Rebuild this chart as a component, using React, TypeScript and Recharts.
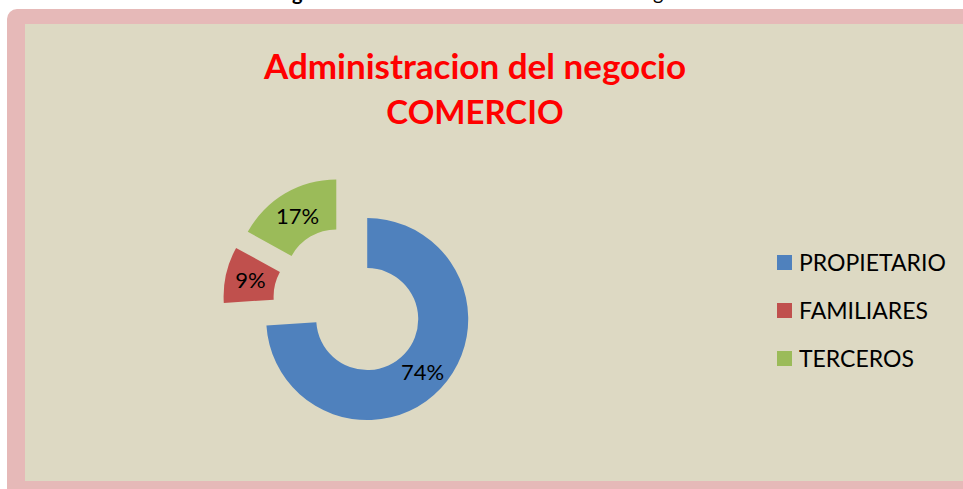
import React from 'react';
import { PieChart, Pie, Cell, Legend, Sector } from 'recharts';

const categories = ['PROPIETARIO', 'FAMILIARES', 'TERCEROS'];
const values = [74, 9, 17];
const colors = ['#4F81BD', '#C0504D', '#9BBB59'];
const titleLines = ['Administracion del negocio', 'COMERCIO'];

const data = categories.map((name, i) => ({ name, value: values[i] }));

const RAD = Math.PI / 180;
const EXPLODE = 25;
const FONT = 'Lato, "Open Sans", sans-serif';

function ExplodedSector(props: any) {
  const { cx, cy, midAngle, innerRadius, outerRadius, startAngle, endAngle, fill } = props;
  const dx = EXPLODE * Math.cos(-midAngle * RAD);
  const dy = EXPLODE * Math.sin(-midAngle * RAD);
  return (
    <Sector
      cx={cx + dx}
      cy={cy + dy}
      innerRadius={innerRadius}
      outerRadius={outerRadius}
      startAngle={startAngle}
      endAngle={endAngle}
      fill={fill}
      stroke="none"
    />
  );
}

const renderLabel = (p: any) => {
  const { cx, cy, midAngle, innerRadius, outerRadius, percent } = p;
  const r = (innerRadius + outerRadius) / 2 + EXPLODE;
  const x = cx + r * Math.cos(-midAngle * RAD);
  const y = cy + r * Math.sin(-midAngle * RAD);
  return (
    <text
      x={x}
      y={y}
      textAnchor="middle"
      dominantBaseline="central"
      fill="#000"
      fontSize={22}
      fontFamily={FONT}
    >
      {`${Math.round(percent * 100)}%`}
    </text>
  );
};

const renderLegend = (props: any) => {
  const payload = [...(props.payload || [])].sort(
    (a: any, b: any) => categories.indexOf(a.value) - categories.indexOf(b.value)
  );
  return (
    <div>
      {payload.map((e: any) => {
        const idx = categories.indexOf(e.value);
        return (
          <div key={e.value} style={{ display: 'flex', alignItems: 'center', height: 48 }}>
            <span
              style={{
                display: 'inline-block',
                width: 15,
                height: 15,
                background: colors[idx],
                marginRight: 7,
              }}
            />
            <span style={{ fontFamily: FONT, fontSize: 23, color: '#000' }}>{e.value}</span>
          </div>
        );
      })}
    </div>
  );
};

export default function App() {
  return (
    <div
      style={{
        position: 'absolute',
        left: 0,
        top: 0,
        width: 963,
        height: 489,
        overflow: 'hidden',
        background: '#FFFFFF',
      }}
    >
      <div
        style={{
          position: 'absolute',
          top: -18,
          left: 292,
          fontFamily: FONT,
          fontSize: 20,
          lineHeight: '20px',
          fontWeight: 700,
          color: '#000',
        }}
      >
        g
      </div>
      <div
        style={{
          position: 'absolute',
          top: -18,
          left: 653,
          fontFamily: FONT,
          fontSize: 20,
          lineHeight: '20px',
          color: '#000',
        }}
      >
        g
      </div>
      <div
        style={{
          position: 'absolute',
          left: 7,
          top: 9,
          width: 1000,
          height: 520,
          background: '#E6B9B8',
          borderRadius: 10,
        }}
      />
      <div
        style={{
          position: 'absolute',
          left: 25,
          top: 24,
          width: 1000,
          height: 457,
          background: '#DDD9C3',
        }}
      />
      {titleLines.map((t, i) => (
        <div
          key={t}
          style={{
            position: 'absolute',
            left: 175,
            width: 600,
            top: i === 0 ? 48 : 95,
            textAlign: 'center',
            fontFamily: FONT,
            fontWeight: 700,
            fontSize: i === 0 ? 35 : 33,
            lineHeight: i === 0 ? '35px' : '33px',
            color: '#FF0000',
            whiteSpace: 'nowrap',
          }}
        >
          {t}
        </div>
      ))}
      <div style={{ position: 'absolute', left: 0, top: 0 }}>
        <PieChart width={963} height={489} margin={{ top: 0, right: 0, bottom: 0, left: 0 }}>
          <Pie
            data={data}
            dataKey="value"
            nameKey="name"
            cx={349}
            cy={302}
            innerRadius={51}
            outerRadius={101}
            startAngle={90}
            endAngle={-270}
            stroke="none"
            labelLine={false}
            label={renderLabel}
            shape={ExplodedSector}
            activeShape={ExplodedSector}
            inactiveShape={ExplodedSector}
            isAnimationActive={false}
          >
            {data.map((d, i) => (
              <Cell key={d.name} fill={colors[i]} />
            ))}
          </Pie>
          <Legend
            layout="vertical"
            content={renderLegend}
            wrapperStyle={{ position: 'absolute', left: 777, top: 238, width: 180 }}
          />
        </PieChart>
      </div>
    </div>
  );
}
